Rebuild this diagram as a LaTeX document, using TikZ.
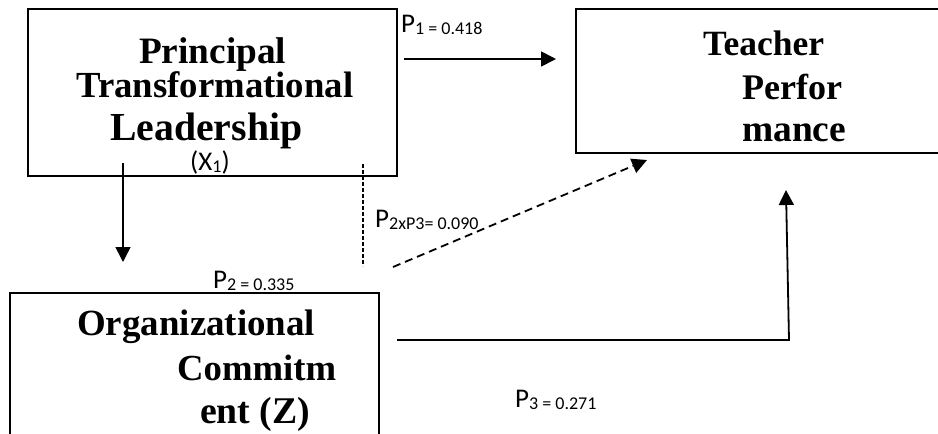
\documentclass[tikz,border=0pt]{standalone}
\usepackage{fontspec}
\usepackage{graphicx}
\setmainfont{Liberation Serif}
\newfontfamily\calib{Carlito}
\usetikzlibrary{arrows.meta}
\newcommand{\mysubtxt}[1]{\raisebox{-2pt}{\fontsize{18}{20}\selectfont #1}}
\begin{document}
\begin{tikzpicture}[x=1pt,y=-1pt,
  box/.style={draw, line width=2pt, inner sep=0pt, outer sep=0pt, anchor=north west},
  ttl/.style={inner sep=0pt, anchor=base west, font=\bfseries},
  lab/.style={inner sep=0pt, anchor=base west, font=\calib\fontsize{27}{30}\selectfont},
  arr/.style={line width=1.8pt, -{Triangle[length=15pt,width=15pt]}},
  dashline/.style={line width=1.1pt, dash pattern=on 4pt off 2pt}]
\useasboundingbox (0,0) rectangle (938,434);
\fill[white] (0,0) rectangle (938,434);
\clip (0,0) rectangle (938,434);

% boxes
\node[box, minimum width=369pt, minimum height=167pt] (pl) at (28,9) {};
\node[box, line width=1.8pt, minimum width=380pt, minimum height=144pt] (tp) at (576,9) {};
\node[box, minimum width=369pt, minimum height=160pt] (oc) at (10,293) {};

% box titles
\node[ttl] (pl1) at (139,63) {\resizebox{147pt}{!}{Principal}};
\node[ttl] (pl2) at (76,97) {\resizebox{277pt}{!}{Transformational}};
\node[ttl] (pl3) at (110,140) {\resizebox{192pt}{!}{Leadership}};

\node[ttl] (tp1) at (703,55) {\resizebox{121pt}{!}{Teacher}};
\node[ttl] (tp2) at (742,99) {\resizebox{100pt}{!}{Perfor}};
\node[ttl] (tp3) at (742,141) {\resizebox{104pt}{!}{mance}};

\node[ttl] (oc1) at (77,335) {\resizebox{238pt}{!}{Organizational}};
\node[ttl] (oc2) at (177,380) {\resizebox{159pt}{!}{Commitm}};
\node[ttl] (oc3) at (200,423) {\resizebox{110pt}{!}{ent (Z)}};

% labels
\node[lab] (x1) at (190,170) {(X\mysubtxt{1})};
\node[lab] (l1) at (401,32) {P\mysubtxt{1 = 0.418}};
\node[lab] (l23) at (375,227) {P\mysubtxt{2xP3= 0.090}};
\node[lab] (l2) at (213,288) {P\mysubtxt{2 = 0.335}};
\node[lab] (l3) at (515,407) {P\mysubtxt{3 = 0.271}};

% connectors
\coordinate (p1s) at (404,59);
\draw[arr, shorten >=20pt] (p1s) -- (p1s -| tp.west);

\coordinate (ds) at (123,163);
\draw[arr, line width=1.5pt, shorten >=31pt] (ds) -- (ds |- oc.north);

\coordinate (dv1) at (363,164);
\coordinate (dv2) at (363,266);
\draw[dashline] (dv1) -- (dv2);

\coordinate (dg) at (393,267);
\coordinate (dgt) at (647,160);
\draw[arr, dash pattern=on 8pt off 5pt] (dg) -- (dgt);

\coordinate (hs) at (397,340);
\coordinate (hc) at (789,340);
\coordinate (ut) at (786,190);
\draw[arr] (hs) -- (hc) -- (ut);
\end{tikzpicture}
\end{document}
